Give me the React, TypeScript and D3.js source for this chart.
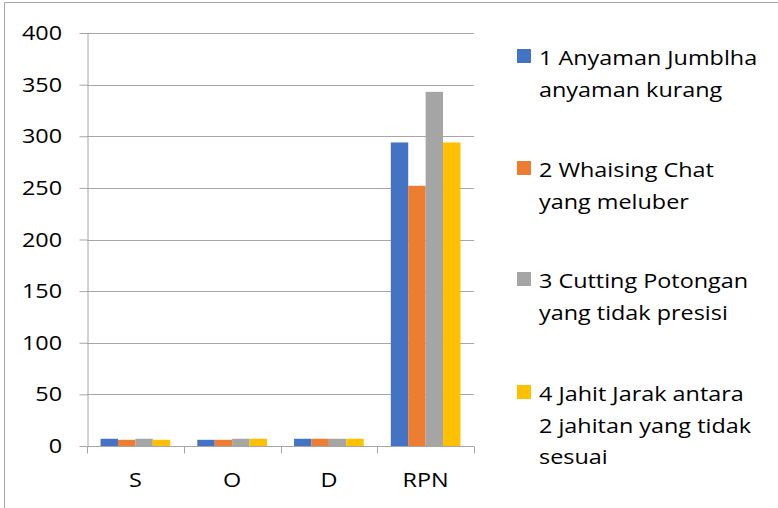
import React, { useRef, useEffect } from 'react';
import * as d3 from 'd3';

const categories = ['S', 'O', 'D', 'RPN'];
const seriesNames = [
  ['1 Anyaman Jumblha', 'anyaman kurang'],
  ['2 Whaising Chat', 'yang meluber'],
  ['3 Cutting Potongan', 'yang tidak presisi'],
  ['4 Jahit Jarak antara', '2 jahitan yang tidak', 'sesuai'],
];
const series1 = [7, 6, 7, 294];
const series2 = [6, 6, 7, 252];
const series3 = [7, 7, 7, 343];
const series4 = [6, 7, 7, 294];
const yTicks = [0, 50, 100, 150, 200, 250, 300, 350, 400];
const colors = ['#4472C4', '#ED7D31', '#A5A5A5', '#FFC000'];

const FONT = '"Open Sans", sans-serif';
const STRETCH = 1.17; // source font is wider than Open Sans

const App = () => {
  const chartRef = useRef<SVGSVGElement>(null);

  useEffect(() => {
    if (!chartRef.current) return;
    const svg = d3.select(chartRef.current);
    svg.selectAll('*').remove();

    const width = 778;
    const height = 508;
    const margin = { top: 33, left: 87, right: 474, bottom: 446 };
    const allSeries = [series1, series2, series3, series4];

    const addText = (g, x, y, t, anchor = 'start') =>
      g.append('text')
        .attr('transform', `translate(${x},${y}) scale(${STRETCH},1)`)
        .attr('text-anchor', anchor)
        .attr('font-family', FONT)
        .attr('font-size', '20px')
        .attr('fill', '#000')
        .text(t);

    // chart frame (only top and left edges visible)
    svg.append('path')
      .attr('d', `M4.5,${height} V2.5 H${width}`)
      .attr('fill', 'none')
      .attr('stroke', '#a6a6a6')
      .attr('stroke-width', 1);

    const y = d3.scaleLinear().domain([0, 400]).range([margin.bottom, margin.top]);
    const x0 = d3.scaleBand().domain(categories).range([margin.left, margin.right]).padding(0);
    const gap = x0.bandwidth() * 0.14;
    const x1 = d3.scaleBand<number>().domain([0, 1, 2, 3]).range([gap, x0.bandwidth() - gap]).padding(0);

    // gridlines
    svg.append('g')
      .selectAll('line')
      .data(yTicks.slice(1))
      .join('line')
      .attr('x1', margin.left)
      .attr('x2', margin.right)
      .attr('y1', d => Math.round(y(d)) + 0.5)
      .attr('y2', d => Math.round(y(d)) + 0.5)
      .attr('stroke', '#a6a6a6');

    // y axis
    const yAxis = svg.append('g')
      .attr('transform', `translate(${margin.left + 0.5},0)`)
      .call(d3.axisLeft(y).tickValues(yTicks).tickSize(8).tickSizeOuter(0).tickFormat(() => ''));
    yAxis.select('.domain').attr('stroke', '#a6a6a6');
    yAxis.selectAll('.tick line').attr('stroke', '#a6a6a6');
    const yLabels = svg.append('g');
    yTicks.forEach(v => addText(yLabels, 62, y(v) + 7, String(v), 'end'));

    // bars
    const groups = svg.append('g')
      .selectAll('g')
      .data(categories)
      .join('g')
      .attr('transform', d => `translate(${x0(d)},0)`);

    groups.selectAll('rect')
      .data((_, i) => allSeries.map((s, k) => ({ k, v: s[i] })))
      .join('rect')
      .attr('x', d => x1(d.k)!)
      .attr('width', x1.bandwidth())
      .attr('y', d => y(d.v))
      .attr('height', d => y(0) - y(d.v))
      .attr('fill', d => colors[d.k]);

    // x axis
    const xAxis = svg.append('g')
      .attr('transform', `translate(0,${margin.bottom + 0.5})`);
    xAxis.append('line')
      .attr('x1', margin.left)
      .attr('x2', margin.right)
      .attr('stroke', '#a6a6a6');
    const bounds = [...categories.map(c => x0(c)!), margin.right];
    xAxis.selectAll('.sep')
      .data(bounds)
      .join('line')
      .attr('class', 'sep')
      .attr('x1', d => Math.round(d) + 0.5)
      .attr('x2', d => Math.round(d) + 0.5)
      .attr('y1', 0)
      .attr('y2', 7)
      .attr('stroke', '#a6a6a6');
    categories.forEach(c => addText(xAxis, x0(c)! + x0.bandwidth() / 2, 40, c, 'middle'));

    // legend
    const legend = svg.append('g');
    const itemTop = [65, 177, 288, 401];
    seriesNames.forEach((lines, i) => {
      legend.append('rect')
        .attr('x', 517)
        .attr('y', itemTop[i] - 16)
        .attr('width', 14)
        .attr('height', 14)
        .attr('fill', colors[i]);
      lines.forEach((t, j) => addText(legend, 539, itemTop[i] + j * 31.5, t));
    });
  }, []);

  return (
    <svg
      ref={chartRef}
      width="778"
      height="508"
      style={{ position: 'absolute', left: 0, top: 0, background: '#fff' }}
    ></svg>
  );
};

export default App;
